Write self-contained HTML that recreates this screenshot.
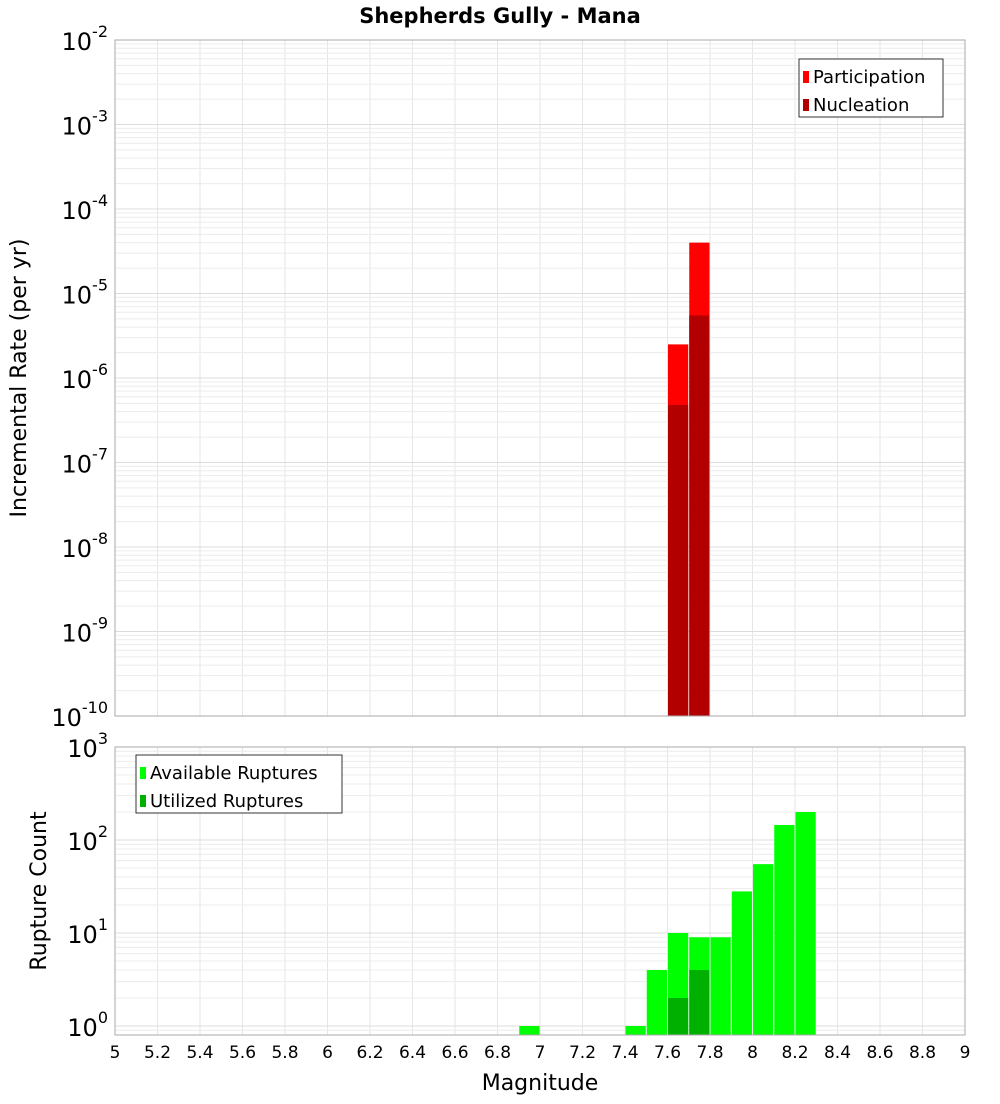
<!DOCTYPE html>
<html><head><meta charset="utf-8"><style>
body{margin:0;background:#fff;width:1000px;height:1100px;overflow:hidden;font-family:"DejaVu Sans","Liberation Sans",sans-serif}
</style></head><body>
<svg id="c" width="1000" height="1100" xmlns="http://www.w3.org/2000/svg" font-family="DejaVu Sans, Liberation Sans, sans-serif">
<text x="500" y="23" text-anchor="middle" font-size="21" font-weight="bold">Shepherds Gully - Mana</text>
<g id="topPlot"></g>
<g id="botPlot"></g>
<text transform="translate(26,378) rotate(-90)" text-anchor="middle" font-size="22">Incremental Rate (per yr)</text>
<text transform="translate(46,891) rotate(-90)" text-anchor="middle" font-size="22">Rupture Count</text>
<text x="540" y="1090" text-anchor="middle" font-size="22">Magnitude</text>
</svg>
<script>
const rateMags=[7.65,7.75];
const participation=[2.5e-6,4e-5];
const nucleation=[4.8e-7,5.5e-6];
const countMags=[6.95,7.45,7.55,7.65,7.75,7.85,7.95,8.05,8.15,8.25];
const available=[1,1,4,10,9,9,28,55,145,200];
const utilMags=[7.65,7.75];
const utilized=[2,4];
const xTicks=[5,5.2,5.4,5.6,5.8,6,6.2,6.4,6.6,6.8,7,7.2,7.4,7.6,7.8,8,8.2,8.4,8.6,8.8,9];
const topExps=[-10,-9,-8,-7,-6,-5,-4,-3,-2];
const botExps=[0,1,2,3];

const NS="http://www.w3.org/2000/svg";
const X0=115,X1=965;
const xs=m=>X0+(m-5)/4*(X1-X0);
const yTop=v=>40+(-2-Math.log10(v))*84.5;
const yBot=v=>1026-Math.log10(v)*93;
function mk(p,tag,at){const e=document.createElementNS(NS,tag);for(const k in at)e.setAttribute(k,at[k]);p.appendChild(e);return e;}
const topG=document.getElementById('topPlot'),botG=document.getElementById('botPlot');

function grid(g,y0,y1,yf,minE,maxE){
  for(const t of xTicks){const l=mk(g,'line',{x1:xs(t),x2:xs(t),y1:y0,y2:y1,stroke:'#e6e6e6'});
    
    }
  for(let e=minE;e<maxE;e++)for(let k=1;k<10;k++){const y=yf(k*Math.pow(10,e));if(y<y0||y>y1)continue;
    const l=mk(g,'line',{x1:X0,x2:X1,y1:y,y2:y,stroke:k==1?'#dcdcdc':'#ececec'});
    
    }
}
function bar(g,m,v,yf,ybase,fill,name){
  const y=yf(v);const r=mk(g,'rect',{x:xs(m-0.05)+0.5,y:y,width:xs(m+0.05)-xs(m-0.05)-1,height:ybase-y,fill:fill});
  
  
}
grid(topG,40,716,yTop,-10,-2);
rateMags.forEach((m,i)=>bar(topG,m,participation[i],yTop,716,'#ff0000','participation-bar'));
rateMags.forEach((m,i)=>bar(topG,m,nucleation[i],yTop,716,'#b20000','nucleation-bar'));
let fr=mk(topG,'rect',{x:X0,y:40,width:X1-X0,height:676,fill:'none',stroke:'#aaa'});


topExps.forEach(e=>{const t=mk(topG,'text',{x:108,y:yTop(Math.pow(10,e))+10,'text-anchor':'end','font-size':24});
  
  
  t.textContent='10';const s=mk(t,'tspan',{dy:-13,'font-size':16});s.textContent=e;});
grid(botG,747,1035,yBot,-1,3);
countMags.forEach((m,i)=>bar(botG,m,available[i],yBot,1035,'#00ff00','available-bar'));
utilMags.forEach((m,i)=>bar(botG,m,utilized[i],yBot,1035,'#00b000','utilized-bar'));
fr=mk(botG,'rect',{x:X0,y:747,width:X1-X0,height:288,fill:'none',stroke:'#aaa'});


botExps.forEach(e=>{const t=mk(botG,'text',{x:108,y:yBot(Math.pow(10,e))+10,'text-anchor':'end','font-size':24});
  
  
  t.textContent='10';const s=mk(t,'tspan',{dy:-13,'font-size':16});s.textContent=e;});
xTicks.forEach(v=>{const t=mk(botG,'text',{x:xs(v),y:1058,'text-anchor':'middle','font-size':17});
  
  
  t.textContent=String(v);});
function legend(g,x,y,w,items,name){
  const r=mk(g,'rect',{x:x,y:y,width:w,height:58,fill:'#fff',stroke:'#333'});
  
  
  items.forEach((it,i)=>{const sw=mk(g,'rect',{x:x+4,y:y+12+i*28,width:6,height:12,fill:it[1]});
    
    
    const t=mk(g,'text',{x:x+14,y:y+24+i*28,'font-size':18});
    
    
    t.textContent=it[0];});
}
legend(topG,799,59,144,[['Participation','#ff0000'],['Nucleation','#b20000']],'top-legend');
legend(botG,136,755,206,[['Available Ruptures','#00ff00'],['Utilized Ruptures','#00b000']],'bottom-legend');
</script>
</body></html>
